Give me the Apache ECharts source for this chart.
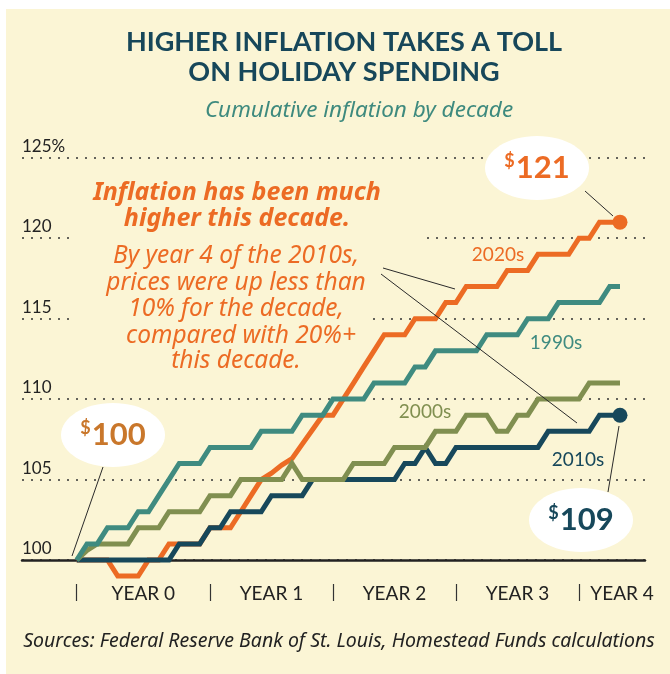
<!DOCTYPE html>
<html>
<head>
<meta charset="utf-8">
<script src="https://cdn.jsdelivr.net/npm/echarts@6/dist/echarts.min.js"></script>
<style>
  html, body { margin: 0; padding: 0; background: #fff; }
  #chart { width: 670px; height: 674px; }
</style>
</head>
<body>
<div id="chart"></div>
<script>
// cumulative price level, start of decade = 100, one value per month
const decades = ['1990s', '2000s', '2010s', '2020s'];
const values1990s = [100, 101, 101, 102, 102, 102, 103, 103, 104, 105,
  106, 106, 106, 107, 107, 107, 107, 107, 108, 108,
  108, 108, 109, 109, 109, 110, 110, 110, 110, 111,
  111, 111, 111, 112, 112, 113, 113, 113, 113, 113,
  114, 114, 114, 114, 115, 115, 115, 116, 116, 116,
  116, 116, 117, 117];
const values2000s = [100, 100.6, 101, 101, 101, 101, 102, 102, 102, 103,
  103, 103, 103, 104, 104, 104, 105, 105, 105, 105,
  105, 106, 105, 105, 105, 105, 105, 106, 106, 106,
  106, 107, 107, 107, 107, 108, 108, 108, 109, 109,
  109, 108, 108, 109, 109, 110, 110, 110, 110, 110,
  111, 111, 111, 111];
const values2010s = [100, 100, 100, 100, 100, 100, 100, 100, 100, 100,
  101, 101, 101, 102, 102, 103, 103, 103, 103, 104,
  104, 104, 104, 105, 105, 105, 105, 105, 105, 105,
  105, 105, 106, 106, 107, 106, 106, 107, 107, 107,
  107, 107, 107, 107, 107, 107, 108, 108, 108, 108,
  108, 109, 109, 109];
const values2020s = [100, 100, 100, 100, 99, 99, 99, 100, 100, 101,
  101, 101, 101, 102, 102, 102, 103, 104, 105, 105.4,
  105.9, 106.3, 107.2, 108.1, 109, 109, 110, 111, 112, 113,
  114, 114, 114, 115, 115, 115, 116, 116, 117, 117,
  117, 117, 118, 118, 118, 119, 119, 119, 119, 120,
  120, 121, 121, 121];

const yearTicks = [0, 13, 25, 37, 49];          // month where each year marker sits
const yearLabels = ['YEAR 0', 'YEAR 1', 'YEAR 2', 'YEAR 3', 'YEAR 4'];
const yTicks = [100, 105, 110, 115, 120, 125];
const yTickLabels = ['100', '105', '110', '115', '120', '125%'];

const BG = '#fbf5d5';
const FONT = 'Lato, "Noto Sans", sans-serif';
const WIDE = '"Noto Sans", sans-serif';
const colors = { '1990s': '#3f8b80', '2000s': '#808f50', '2010s': '#17485b', '2020s': '#ec6b24' };

const toPairs = (vals) => vals.map((v, i) => [i, v]);
const lastIdx = values2020s.length - 1;

const xMin = -5.34, xMax = 55.44;
const labelPos = yearTicks.map((t, i) =>
  i < yearTicks.length - 1 ? (t + yearTicks[i + 1]) / 2 : t + 4.2);

const chart = echarts.init(document.getElementById('chart'));

const lineSeries = (name, vals) => ({
  type: 'line',
  name: name,
  data: toPairs(vals),
  showSymbol: false,
  clip: false,
  z: 2,
  lineStyle: { color: colors[name], width: 5, join: 'miter', cap: 'butt' },
  itemStyle: { color: colors[name] }
});

const endDot = (name, vals) => ({
  type: 'scatter',
  data: [[vals.length - 1, vals[vals.length - 1]]],
  symbolSize: 15,
  z: 3,
  itemStyle: { color: colors[name], opacity: 1 }
});

const txt = (text, x, y, font, color) => ({
  type: 'text', x: x, y: y, z: 20,
  style: { text: text, fill: color, font: font, align: 'center', verticalAlign: 'middle' }
});

const line = (x1, y1, x2, y2) => ({
  type: 'line', z: 15,
  shape: { x1, y1, x2, y2 },
  style: { stroke: '#2a2a2a', lineWidth: 1 }
});

const bubble = (cx, cy, label, color) => ([
  { type: 'ellipse', z: 16, shape: { cx, cy, rx: 52, ry: 32 }, style: { fill: '#fff' } },
  {
    type: 'text', x: cx, y: cy, z: 17,
    style: {
      text: `{s|$}{n|${label}}`,
      align: 'center', verticalAlign: 'middle',
      rich: {
        s: { font: `bold 18px ${FONT}`, fill: color, verticalAlign: 'top', padding: [0, 1, 11, 0] },
        n: { font: `bold 31px ${FONT}`, fill: color }
      }
    }
  }
]);

const orange = colors['2020s'];

const option = {
  animation: false,
  backgroundColor: '#fff',
  grid: { left: 22, right: 25, top: 157.8, bottom: 114, containLabel: false },
  xAxis: [
    {
      type: 'value', min: xMin, max: xMax,
      axisLine: { show: true, lineStyle: { color: '#222', width: 2.5 } },
      axisTick: { show: false }, axisLabel: { show: false }, splitLine: { show: false }
    },
    {
      type: 'value', min: xMin, max: xMax, position: 'bottom', offset: 24,
      axisLine: { show: false },
      axisTick: { show: true, customValues: yearTicks, length: 17, lineStyle: { color: '#333', width: 1.2 } },
      axisLabel: {
        show: true, customValues: labelPos, margin: 0,
        color: '#222', fontSize: 19, fontFamily: FONT,
        formatter: (v) => yearLabels[labelPos.indexOf(v)] || ''
      },
      splitLine: { show: false }
    }
  ],
  yAxis: {
    type: 'value', min: 100, max: 125, interval: 5,
    axisLine: { show: false }, axisTick: { show: false },
    axisLabel: {
      inside: true, margin: 0, verticalAlign: 'bottom', padding: [0, 0, 3, 0],
      color: '#222', fontSize: 17, fontFamily: FONT,
      formatter: (v) => yTickLabels[yTicks.indexOf(v)]
    },
    splitLine: { show: true, lineStyle: { type: [2, 7], color: '#333', width: 1.6 } }
  },
  series: [
    lineSeries('2020s', values2020s),
    lineSeries('2010s', values2010s),
    lineSeries('2000s', values2000s),
    lineSeries('1990s', values1990s),
    endDot('2020s', values2020s),
    endDot('2010s', values2010s)
  ],
  graphic: [
    { type: 'rect', z: -10, shape: { x: 6, y: 9, width: 700, height: 700, r: [0, 18, 0, 0] }, style: { fill: BG } },
    // knock the gridlines out behind the annotation
    { type: 'rect', z: 1, shape: { x: 76, y: 231, width: 347, height: 14 }, style: { fill: BG } },
    { type: 'rect', z: 1, shape: { x: 76, y: 311, width: 296, height: 14 }, style: { fill: BG } },

    txt('HIGHER INFLATION TAKES A TOLL', 344, 42, `bold 27px ${FONT}`, '#17475a'),
    txt('ON HOLIDAY SPENDING', 344, 72, `bold 27px ${FONT}`, '#17475a'),
    txt('Cumulative inflation by decade', 359, 111, `italic 22.5px ${WIDE}`, '#3e8a7e'),

    txt('Inflation has been much', 237, 193, `italic bold 25px ${WIDE}`, orange),
    txt('higher this decade.', 237, 219, `italic bold 25px ${WIDE}`, orange),
    txt('By year 4 of the 2010s,', 236, 256, `italic 24.5px ${WIDE}`, orange),
    txt('prices were up less than', 236, 283, `italic 24.5px ${WIDE}`, orange),
    txt('10% for the decade,', 236, 309, `italic 24.5px ${WIDE}`, orange),
    txt('compared with 20%+', 241, 336, `italic 24.5px ${WIDE}`, orange),
    txt('this decade.', 236, 361, `italic 24.5px ${WIDE}`, orange),

    txt(decades[3], 498, 255, `19px ${FONT}`, colors['2020s']),
    txt(decades[0], 556, 343, `19px ${FONT}`, colors['1990s']),
    txt(decades[1], 425, 412, `19px ${FONT}`, colors['2000s']),
    txt(decades[2], 578, 460, `19px ${FONT}`, colors['2010s']),

    line(383, 268, 455, 289),
    line(381, 274, 577, 423),
    line(585, 191, 613, 216),
    line(619, 426, 608, 492),
    line(103, 467, 72, 556),

    ...bubble(537, 168, String(values2020s[lastIdx]), colors['2020s']),
    ...bubble(113, 435, String(values2020s[0]), '#c9772b'),
    ...bubble(581, 520, String(values2010s[lastIdx]), colors['2010s']),

    txt('Sources: Federal Reserve Bank of St. Louis, Homestead Funds calculations', 339, 641,
      `italic 19.5px ${WIDE}`, '#222')
  ]
};

chart.setOption(option);
</script>
</body>
</html>
